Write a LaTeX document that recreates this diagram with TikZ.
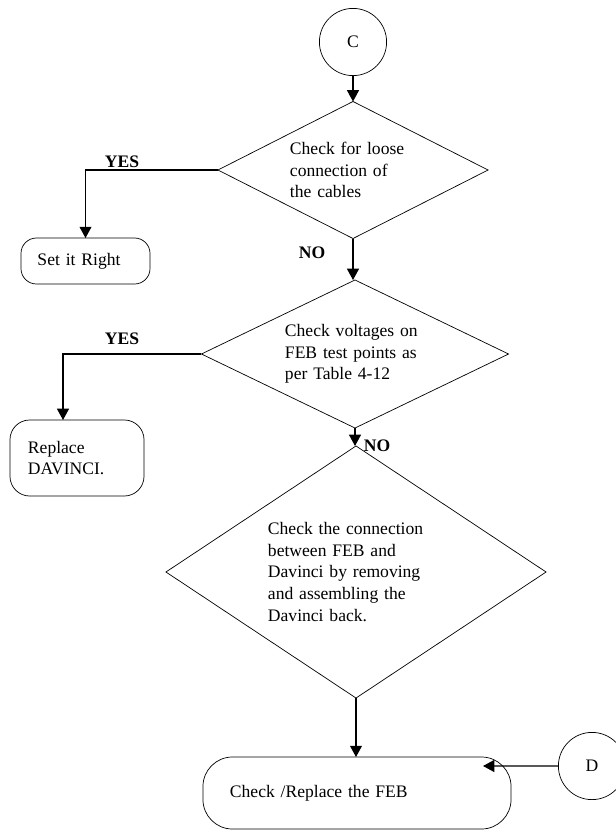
\documentclass[tikz,border=0pt]{standalone}
\usepackage{fontspec}
\setmainfont{Liberation Serif}
\usetikzlibrary{positioning,arrows.meta,shapes.geometric,calc}

\begin{document}
\begin{tikzpicture}[x=0.025cm, y=-0.025cm, font=\fontsize{12.5}{15.4}\selectfont,
      dec/.style={draw, diamond, inner sep=0pt, outer sep=0pt, align=left, line width=0.5pt},
      term/.style={draw, rounded corners=11pt, inner sep=0pt, outer sep=0pt, align=left, line width=0.5pt},
      con/.style={draw, circle, minimum size=1.68cm, inner sep=0pt, outer sep=0pt, line width=0.5pt},
      lab/.style={font=\fontsize{12.5}{15.4}\selectfont\bfseries},
      f/.style={-{Triangle[length=8pt,width=8.5pt]}, line width=0.8pt}]
    \useasboundingbox (0,0) rectangle (616,831);

    \node[con] (c) at (353,42) {C};
    \node[dec, minimum width=6.75cm, minimum height=3.425cm, aspect=2, text width=3.15cm]
        (q1) at (353,170) {Check for loose\\ connection of\\ the cables};
    \node[dec, minimum width=7.675cm, minimum height=3.7cm, aspect=2.07, text width=3.5cm]
        (q2) at (355,354) {Check voltages on\\ FEB test points as\\ per Table 4-12};
    \node[dec, minimum width=9.5cm, minimum height=6.3cm, aspect=1.5, text width=4.4cm]
        (q3) at (356,572) {Check the connection\\ between FEB and\\ Davinci by removing\\ and assembling the\\ Davinci back.};

    \node[term, minimum width=3.225cm, minimum height=1.15cm, text width=2.4cm]
        (set) at (85.5,261) {Set it Right};
    \node[term, rounded corners=14pt, minimum width=3.35cm, minimum height=1.9cm, text width=2.45cm]
        (rep) at (77,458) {Replace\\ DAVINCI.};
    \node[term, rounded corners=21pt, minimum width=7.7cm, minimum height=1.8cm, text width=6.35cm]
        (feb) at (357,793) {Check /Replace the FEB\\[6pt]};
    \node[con] (d) at (592,766) {D};
    \coordinate (feb-in) at ([xshift=-0.7cm, yshift=-0.225cm]feb.north east);

    \draw[f] (c) -- (q1);
    \draw[f] (q1.west) -| (set.north);
    \draw[f] (q1.south) -- (q2.north -| q1.south);
    \draw[f] (q2.west) -| ([xshift=-0.35cm]rep.north);
    \draw[f] (q2.south) -- (q3.north -| q2.south);
    \draw[f] (q3.south) -- (feb.north -| q3.south);
    \draw[f] (d.west) -- (feb-in);

    \node[lab] (yes1) at (122,162) {YES};
    \node[lab] (no1) at (312,253) {NO};
    \node[lab] (yes2) at (122,339) {YES};
    \node[lab] (no2) at (377,446) {NO};
  \end{tikzpicture}
\end{document}
